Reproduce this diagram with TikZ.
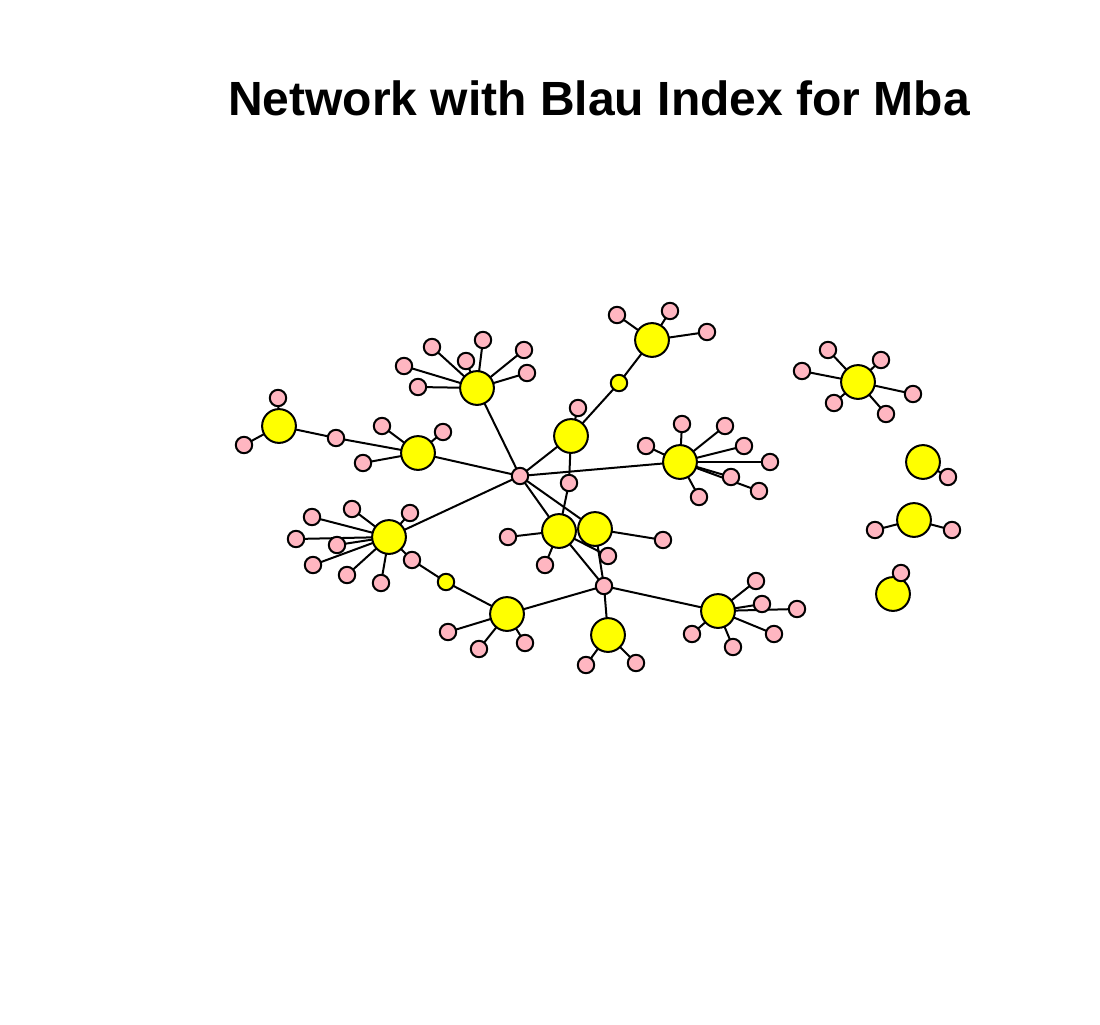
\documentclass[tikz,border=0pt]{standalone}
\usepackage{fontspec}
\setmainfont{Liberation Sans}
\usetikzlibrary{backgrounds}
\definecolor{vyellow}{HTML}{FFFF00}
\definecolor{vpink}{HTML}{FFB6C1}
\begin{document}
\begin{tikzpicture}[x=1pt,y=-1pt,
  big/.style={circle,draw=black,line width=2pt,fill=vyellow,minimum size=33.8pt,inner sep=0pt},
  smally/.style={circle,draw=black,line width=2pt,fill=vyellow,minimum size=16.4pt,inner sep=0pt},
  pk/.style={circle,draw=black,line width=2pt,fill=vpink,minimum size=16.4pt,inner sep=0pt},
  edge/.style={draw=black,line width=2pt}]
\useasboundingbox (0,0) rectangle (1100,1025);
\node[font=\bfseries\fontsize{48}{58}\selectfont,anchor=base] (title) at (599,115) {Network with Blau Index for Mba};
% yellow nodes
\node[big] (A) at (279,426) {};
\node[big] (B) at (418,453) {};
\node[big] (C) at (477,388) {};
\node[big] (D) at (652,340) {};
\node[big] (E) at (571,436) {};
\node[big] (F) at (680,462) {};
\node[big] (G) at (389,537) {};
\node[big] (H) at (507,614) {};
\node[big] (I) at (559,531) {};
\node[big] (J) at (595,529) {};
\node[big] (K) at (608,635) {};
\node[big] (L) at (718,611) {};
\node[big] (M) at (858,382) {};
\node[big] (N) at (923,462) {};
\node[big] (O) at (914,520) {};
\node[big] (P) at (893,594) {};
\node[smally] (s1) at (619,383) {};
\node[smally] (s2) at (446,582) {};
% pink nodes
\node[pk] (hub1) at (520,476) {};
\node[pk] (hub2) at (604,586) {};
\node[pk] (a1) at (278,398) {};
\node[pk] (a2) at (244,445) {};
\node[pk] (a3) at (336,438) {};
\node[pk] (b1) at (382,426) {};
\node[pk] (b2) at (443,432) {};
\node[pk] (b3) at (363,463) {};
\node[pk] (c1) at (432,347) {};
\node[pk] (c2) at (483,340) {};
\node[pk] (c3) at (466,361) {};
\node[pk] (c4) at (524,350) {};
\node[pk] (c5) at (527,373) {};
\node[pk] (c6) at (404,366) {};
\node[pk] (c7) at (418,387) {};
\node[pk] (d1) at (617,315) {};
\node[pk] (d2) at (670,311) {};
\node[pk] (d3) at (707,332) {};
\node[pk] (e1) at (578,408) {};
\node[pk] (p1) at (569,483) {};
\node[pk] (f1) at (682,424) {};
\node[pk] (f2) at (725,426) {};
\node[pk] (f3) at (646,446) {};
\node[pk] (f4) at (744,446) {};
\node[pk] (f5) at (770,462) {};
\node[pk] (f6) at (731,477) {};
\node[pk] (f7) at (759,491) {};
\node[pk] (f8) at (699,497) {};
\node[pk] (g1) at (312,517) {};
\node[pk] (g2) at (352,509) {};
\node[pk] (g3) at (410,513) {};
\node[pk] (g4) at (296,539) {};
\node[pk] (g5) at (337,545) {};
\node[pk] (g6) at (313,565) {};
\node[pk] (g7) at (347,575) {};
\node[pk] (g8) at (381,583) {};
\node[pk] (g9) at (412,560) {};
\node[pk] (h1) at (448,632) {};
\node[pk] (h2) at (479,649) {};
\node[pk] (h3) at (525,643) {};
\node[pk] (i1) at (508,537) {};
\node[pk] (i2) at (545,565) {};
\node[pk] (i3) at (608,556) {};
\node[pk] (j1) at (663,540) {};
\node[pk] (k1) at (586,665) {};
\node[pk] (k2) at (636,663) {};
\node[pk] (l1) at (756,581) {};
\node[pk] (l2) at (762,604) {};
\node[pk] (l3) at (797,609) {};
\node[pk] (l4) at (774,634) {};
\node[pk] (l5) at (733,647) {};
\node[pk] (l6) at (692,634) {};
\node[pk] (m1) at (828,350) {};
\node[pk] (m2) at (802,371) {};
\node[pk] (m3) at (881,360) {};
\node[pk] (m4) at (913,394) {};
\node[pk] (m5) at (886,414) {};
\node[pk] (m6) at (834,403) {};
\node[pk] (n1) at (948,477) {};
\node[pk] (o1) at (875,530) {};
\node[pk] (o2) at (952,530) {};
\node[pk] (q1) at (901,573) {};
\begin{scope}[on background layer]
\foreach \u/\v in {A/a1,A/a2,A/a3,a3/B,B/b1,B/b2,B/b3,B/hub1,
  C/c1,C/c2,C/c3,C/c4,C/c5,C/c6,C/c7,C/hub1,
  D/d1,D/d2,D/d3,D/s1,s1/E,E/e1,E/hub1,E/p1,p1/I,
  F/f1,F/f2,F/f3,F/f4,F/f5,F/f6,F/f7,F/f8,F/hub1,
  G/g1,G/g2,G/g3,G/g4,G/g5,G/g6,G/g7,G/g8,G/g9,G/hub1,g9/s2,s2/H,
  H/h1,H/h2,H/h3,H/hub2,hub1/I,hub1/J,I/hub2,J/hub2,I/i1,I/i2,I/i3,J/j1,
  hub2/K,K/k1,K/k2,hub2/L,L/l1,L/l2,L/l3,L/l4,L/l5,L/l6,
  M/m1,M/m2,M/m3,M/m4,M/m5,M/m6,N/n1,O/o1,O/o2,P/q1}
  \draw[edge] (\u.center) -- (\v.center);
\end{scope}
\end{tikzpicture}
\end{document}
